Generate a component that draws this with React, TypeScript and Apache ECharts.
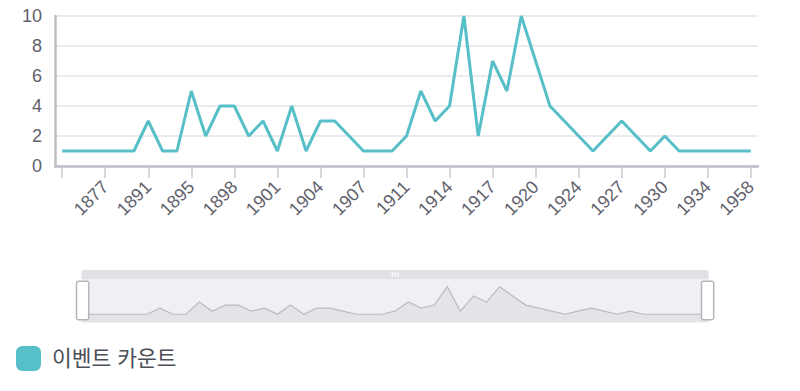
import React, { useEffect, useRef } from "react";
import * as echarts from "echarts";

const years: string[] = [
  "1870", "1873", "1875", "1877", "1880", "1885", "1891", "1893", "1894", "1895",
  "1896", "1897", "1898", "1899", "1900", "1901", "1902", "1903", "1904", "1905",
  "1906", "1907", "1908", "1910", "1911", "1912", "1913", "1914", "1915", "1916",
  "1917", "1918", "1919", "1920", "1921", "1922", "1924", "1925", "1926", "1927",
  "1928", "1929", "1930", "1931", "1933", "1934", "1935", "1940", "1958",
];

const eventCounts: number[] = [
  1, 1, 1, 1, 1, 1, 3, 1, 1, 5,
  2, 4, 4, 2, 3, 1, 4, 1, 3, 3,
  2, 1, 1, 1, 2, 5, 3, 4, 10, 2,
  7, 5, 10, 7, 4, 3, 2, 1, 2, 3,
  2, 1, 2, 1, 1, 1, 1, 1, 1,
];

const yTicks = { min: 0, max: 10, interval: 2 };
const seriesName = "이벤트 카운트";

const FONT = "'Liberation Sans', 'Noto Sans CJK KR', sans-serif";
const HANDLE =
  "path://M2,0h8a2,2,0,0,1,2,2v34a2,2,0,0,1-2,2h-8a2,2,0,0,1-2-2v-34a2,2,0,0,1,2-2Z";

export default function App() {
  const ref = useRef<HTMLDivElement>(null);
  useEffect(() => {
    if (!ref.current) return;
    const chart = echarts.init(ref.current, undefined, { renderer: "svg" });
    chart.setOption({
      animation: false,
      textStyle: { fontFamily: FONT },
      grid: { left: 55, right: 42, top: 16, bottom: 225, containLabel: false },
      xAxis: {
        type: "category",
        data: years,
        boundaryGap: true,
        axisLine: { show: true, lineStyle: { color: "#bcbfc6", width: 2.5 } },
        axisTick: {
          show: true,
          alignWithLabel: true,
          interval: 2,
          length: 12,
          lineStyle: { color: "#c8cad0", width: 1.5 },
        },
        axisLabel: {
          interval: 2,
          rotate: 45,
          fontSize: 18,
          color: "#5f616b",
          margin: 18,
          fontFamily: FONT,
          formatter: (v: string, i: number) => (i === 0 ? "" : v),
        },
        splitLine: { show: false },
      },
      yAxis: {
        type: "value",
        min: yTicks.min,
        max: yTicks.max,
        interval: yTicks.interval,
        axisLine: { show: true, lineStyle: { color: "#bcbfc6", width: 2.5 } },
        axisTick: { show: false },
        axisLabel: { fontSize: 18, color: "#5f616b", margin: 13, fontFamily: FONT },
        splitLine: { show: true, lineStyle: { color: "#e3e4e8", width: 1.5 } },
      },
      dataZoom: [
        {
          type: "slider",
          xAxisIndex: 0,
          start: 0,
          end: 100,
          left: 78,
          right: 95,
          top: 270,
          height: 44,
          moveHandleSize: 9,
          handleIcon: HANDLE,
          handleSize: "88%",
          showDetail: false,
          backgroundColor: "#eff0f3",
          borderColor: "transparent",
          fillerColor: "rgba(0,0,0,0)",
          dataBackground: {
            lineStyle: { color: "#b9bbc0", width: 1.2, opacity: 1 },
            areaStyle: { color: "#e3e4e8", opacity: 1 },
          },
          selectedDataBackground: {
            lineStyle: { color: "#b9bbc0", width: 1.2, opacity: 1 },
            areaStyle: { color: "#e3e4e8", opacity: 1 },
          },
          handleStyle: { color: "#ffffff", borderColor: "#b4b6bc", borderWidth: 1.5 },
          moveHandleStyle: { color: "#e1e2e6", opacity: 1 },
          emphasis: {
            handleStyle: { color: "#ffffff", borderColor: "#b4b6bc" },
            moveHandleStyle: { color: "#e1e2e6" },
          },
        },
      ],
      legend: {
        show: true,
        left: 11,
        top: 341,
        icon: "roundRect",
        itemWidth: 25,
        itemHeight: 25,
        itemGap: 10,
        textStyle: {
          fontSize: 21.5,
          color: "#4c4e58",
          fontFamily: FONT,
          padding: [0, 0, 0, 6],
        },
        data: [seriesName],
      },
      series: [
        {
          name: seriesName,
          type: "line",
          data: eventCounts,
          symbol: "none",
          showSymbol: false,
          itemStyle: { color: "#56bfc7" },
          lineStyle: { color: "#56bfc7", width: 3 },
        },
      ],
    });
    return () => chart.dispose();
  }, []);
  return (
    <div
      ref={ref}
      style={{ position: "absolute", left: 0, top: 0, width: 800, height: 391 }}
    />
  );
}
